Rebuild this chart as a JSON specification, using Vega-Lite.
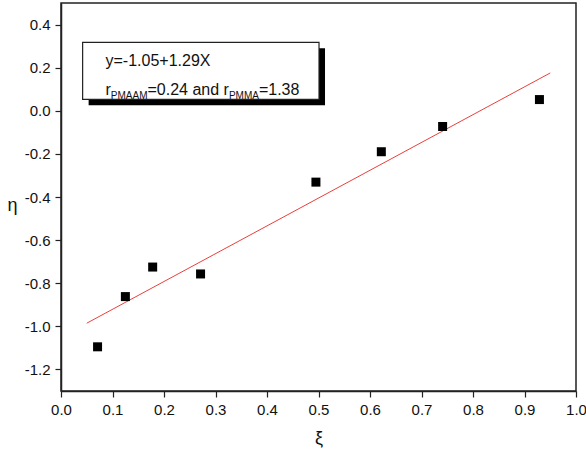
{
  "$schema": "https://vega.github.io/schema/vega-lite/v6.json",
  "width": 515,
  "height": 388,
  "autosize": {"type": "none"},
  "padding": {"left": 61, "top": 3, "right": 10, "bottom": 64},
  "background": "white",
  "config": {
    "font": "Liberation Sans",
    "view": {"stroke": "#222", "strokeWidth": 1.5},
    "axis": {
      "grid": false,
      "domainColor": "#222",
      "domainWidth": 1.5,
      "tickColor": "#222",
      "tickWidth": 1.2,
      "labelColor": "#111",
      "labelFont": "Liberation Sans",
      "labelFontSize": 15,
      "labelOverlap": false,
      "labelFlush": false,
      "titleFont": "Liberation Sans",
      "titleFontSize": 18,
      "titleFontWeight": "normal",
      "titleColor": "#111"
    }
  },
  "layer": [
    {
      "data": {"values": [{"xi": 0.05, "eta": -0.9855}, {"xi": 0.95, "eta": 0.1755}]},
      "mark": {"type": "line", "color": "#e8403c", "strokeWidth": 1},
      "encoding": {
        "x": {
          "field": "xi",
          "type": "quantitative",
          "scale": {"domain": [0, 1], "nice": false, "zero": false},
          "axis": {
            "title": "ξ",
            "values": [0, 0.05, 0.1, 0.15, 0.2, 0.25, 0.3, 0.35, 0.4, 0.45, 0.5, 0.55, 0.6, 0.65, 0.7, 0.75, 0.8, 0.85, 0.9, 0.95, 1.0],
            "tickSize": {"condition": {"test": "round(datum.value*20)%2===0", "value": 6}, "value": 3},
            "labelExpr": "round(datum.value*20)%2===0 ? format(datum.value,'.1f') : ''",
            "labelPadding": 5,
            "titleBaseline": "middle",
            "titleY": 47
          }
        },
        "y": {
          "field": "eta",
          "type": "quantitative",
          "scale": {"domain": [-1.3, 0.5], "nice": false, "zero": false},
          "axis": {
            "title": "η",
            "values": [-1.2, -1.1, -1.0, -0.9, -0.8, -0.7, -0.6, -0.5, -0.4, -0.3, -0.2, -0.1, 0, 0.1, 0.2, 0.3, 0.4],
            "tickSize": {"condition": {"test": "round(datum.value*10)%2===0", "value": 6}, "value": 3},
            "labelExpr": "round(datum.value*10)%2===0 ? replace(format(datum.value,'.1f'),'−','-') : ''",
            "labelPadding": 5,
            "titleAngle": 0,
            "titleAlign": "center",
            "titleBaseline": "middle",
            "titleX": -49,
            "titleY": 202
          }
        }
      }
    },
    {
      "data": {
        "values": [
          {"xi": 0.071, "eta": -1.095},
          {"xi": 0.125, "eta": -0.862},
          {"xi": 0.178, "eta": -0.725},
          {"xi": 0.271, "eta": -0.757},
          {"xi": 0.495, "eta": -0.331},
          {"xi": 0.622, "eta": -0.190},
          {"xi": 0.741, "eta": -0.073},
          {"xi": 0.929, "eta": 0.052}
        ]
      },
      "mark": {"type": "point", "shape": "square", "filled": true, "size": 81, "color": "#000", "opacity": 1},
      "encoding": {
        "x": {"field": "xi", "type": "quantitative"},
        "y": {"field": "eta", "type": "quantitative"}
      }
    },
    {
      "data": {"values": [{}]},
      "mark": {"type": "rect", "color": "#000", "xOffset": 6, "x2Offset": 6, "yOffset": 6, "y2Offset": 6},
      "encoding": {
        "x": {"datum": 0.042, "type": "quantitative"},
        "x2": {"datum": 0.501},
        "y": {"datum": 0.3177, "type": "quantitative"},
        "y2": {"datum": 0.0533}
      }
    },
    {
      "data": {"values": [{}]},
      "mark": {"type": "rect", "fill": "white", "stroke": "#222", "strokeWidth": 1.2},
      "encoding": {
        "x": {"datum": 0.042, "type": "quantitative"},
        "x2": {"datum": 0.501},
        "y": {"datum": 0.3177, "type": "quantitative"},
        "y2": {"datum": 0.0533}
      }
    },
    {
      "data": {"values": [{}]},
      "mark": {"type": "text", "text": "y=-1.05+1.29X", "align": "left", "baseline": "alphabetic", "fontSize": 16, "color": "#111"},
      "encoding": {
        "x": {"datum": 0.0864, "type": "quantitative"},
        "y": {"datum": 0.209, "type": "quantitative"}
      }
    },
    {
      "data": {"values": [{}]},
      "mark": {"type": "text", "text": "r", "align": "left", "baseline": "alphabetic", "fontSize": 16, "color": "#111"},
      "encoding": {
        "x": {"datum": 0.0864, "type": "quantitative"},
        "y": {"datum": 0.074, "type": "quantitative"}
      }
    },
    {
      "data": {"values": [{}]},
      "mark": {"type": "text", "text": "PMAAM", "align": "left", "baseline": "alphabetic", "fontSize": 10, "dx": 5.3, "dy": 4, "color": "#111"},
      "encoding": {
        "x": {"datum": 0.0864, "type": "quantitative"},
        "y": {"datum": 0.074, "type": "quantitative"}
      }
    },
    {
      "data": {"values": [{}]},
      "mark": {"type": "text", "text": "=0.24 and r", "align": "left", "baseline": "alphabetic", "fontSize": 16, "dx": 42, "color": "#111"},
      "encoding": {
        "x": {"datum": 0.0864, "type": "quantitative"},
        "y": {"datum": 0.074, "type": "quantitative"}
      }
    },
    {
      "data": {"values": [{}]},
      "mark": {"type": "text", "text": "PMMA", "align": "left", "baseline": "alphabetic", "fontSize": 10, "dx": 123.4, "dy": 4, "color": "#111"},
      "encoding": {
        "x": {"datum": 0.0864, "type": "quantitative"},
        "y": {"datum": 0.074, "type": "quantitative"}
      }
    },
    {
      "data": {"values": [{}]},
      "mark": {"type": "text", "text": "=1.38", "align": "left", "baseline": "alphabetic", "fontSize": 16, "dx": 153.4, "color": "#111"},
      "encoding": {
        "x": {"datum": 0.0864, "type": "quantitative"},
        "y": {"datum": 0.074, "type": "quantitative"}
      }
    }
  ]
}
